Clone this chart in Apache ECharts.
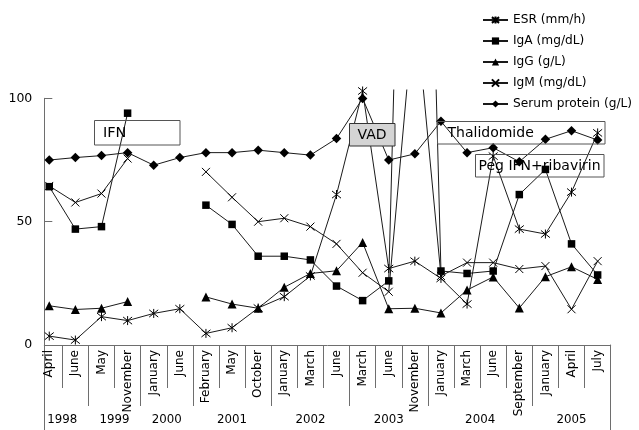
<!DOCTYPE html>
<html>
<head>
<meta charset="utf-8">
<script src="https://cdn.jsdelivr.net/npm/echarts@6/dist/echarts.min.js"></script>
<style>
html,body{margin:0;padding:0;background:#fff;}
#chart{width:639px;height:430px;}
</style>
</head>
<body>
<div id="chart"></div>
<script>
// ---- data ----
const months = ['April','June','May','November','January','June','February','May','October','January','March','June','March','June','November','January','March','June','September','January','April','July'];
const years = ['1998','1999','2000','2001','2002','2003','2004','2005'];
const monthsPerYear = [2,2,2,3,3,3,4,3];
const esr    = [3.6, 2, 11.5, 9.9, 12.8, 14.7, 4.7, 7, 15, 19.6, 28, 61, 103, 31, 34, 27, 16.6, 76.6, 47, 45, 62, 86];
const igA    = [64.2, 47, 48, 94, null, null, 56.7, 48.9, 36, 36, 34.5, 23.9, 18, 26, 430, 30, 29, 30, 61, 71.2, 41, 28.4];
const igG    = [15.9, 14.4, 14.9, 17.6, null, null, 19.5, 16.6, 14.9, 23.4, 29, 30.1, 41.6, 14.7, 14.9, 13, 22.3, 27.6, 15, 27.7, 31.7, 26.6];
const igM    = [64.5, 57.8, 61.4, 75.6, null, null, 70.2, 59.9, 50, 51.4, 48, 41, 29.3, 21.6, 140, 28, 33.4, 33.4, 30.8, 32, 14.5, 34];
const serum  = [75, 76, 76.8, 78, 72.9, 76, 78, 78, 79, 78, 77, 83.7, 100, 75, 77.5, 90.7, 78, 80, 74.3, 83.4, 86.9, 83.1];
const seriesNames = ['ESR (mm/h)', 'IgA (mg/dL)', 'IgG (g/L)', 'IgM (mg/dL)', 'Serum protein (g/L)'];
const yMin = 0, yMax = 100, yStep = 50;
const annotations = ['IFN', 'VAD', 'Thalidomide', 'Peg IFN+ribavirin'];

// ---- derived helpers ----
const cats = months.map((m, i) => i + ':' + m);
const yearStart = [];
const yearCenter = {};
let acc = 0;
monthsPerYear.forEach((n, k) => {
  yearStart.push(acc);
  yearCenter[(acc + (n - 1) / 2).toFixed(1)] = years[k];
  acc += n;
});

const LINE = '#1a1a1a';
const AX = '#6e6e6e';
const FONT = 'DejaVu Sans';

const STAR = 'path://M1,1L9,9M1,9L9,1M5,0L5,10';
const CROSS = 'path://M0,0L10,10M0,10L10,0';

function mkSeries(name, data, symbol, size, stroked) {
  return {
    name: name, type: 'line', data: data,
    xAxisIndex: 0, yAxisIndex: 0,
    symbol: symbol, symbolSize: size,
    showSymbol: true, connectNulls: false, clip: true,
    lineStyle: { color: LINE, width: 1 },
    itemStyle: stroked ? { color: '#000', borderColor: '#000', borderWidth: 1 } : { color: '#000', borderWidth: 0 },
    emphasis: { disabled: true },
    animation: false
  };
}

const GL = 36.2, GR = 639 - 610.7;

const chart = echarts.init(document.getElementById('chart'), null, { renderer: 'canvas' });
chart.setOption({
  animation: false,
  backgroundColor: '#fff',
  grid: [
    { left: GL, right: GR, top: 90, bottom: 85, containLabel: false },
    { left: 44.3, right: GR, top: 98.3, bottom: 85, containLabel: false },
    { left: 44.3, right: GR, top: 345, bottom: 0, containLabel: false }
  ],
  legend: {
    orient: 'vertical', left: 477, top: 8,
    itemWidth: 25, itemHeight: 9, itemGap: 7,
    data: seriesNames,
    textStyle: { fontFamily: FONT, fontSize: 12.2, color: '#000', lineHeight: 14 },
    selectedMode: false
  },
  xAxis: [
    { // months + short separators
      type: 'category', gridIndex: 0, position: 'bottom', data: cats, boundaryGap: true,
      axisLine: { show: false },
      axisTick: { show: true, length: 43, interval: (i) => i > 0, lineStyle: { color: AX, width: 1 } },
      axisLabel: { interval: 0, rotate: 90, margin: 5, fontFamily: FONT, fontSize: 12, color: '#000',
        formatter: (v) => v.split(':')[1] },
      splitLine: { show: false }
    },
    { // long separators at year boundaries
      type: 'category', gridIndex: 0, position: 'bottom', data: cats, boundaryGap: true,
      axisLine: { show: false },
      axisTick: { show: true, length: 61, interval: (i) => yearStart.indexOf(i) > 0, lineStyle: { color: AX, width: 1 } },
      axisLabel: { show: false },
      splitLine: { show: false }
    },
    { // year labels
      type: 'value', gridIndex: 0, position: 'bottom', min: -0.5, max: months.length - 0.5, interval: 0.5,
      offset: 61,
      axisLine: { show: false }, axisTick: { show: false }, splitLine: { show: false },
      axisLabel: { show: true, margin: 8, fontFamily: FONT, fontSize: 11.8, color: '#000',
        showMinLabel: true, showMaxLabel: true,
        formatter: (v) => yearCenter[Number(v).toFixed(1)] || '' }
    },
    { // visible x axis line
      type: 'value', gridIndex: 1, min: 0, max: 1,
      axisLine: { show: true, onZero: false, lineStyle: { color: AX, width: 1 } },
      axisTick: { show: false }, axisLabel: { show: false }, splitLine: { show: false }
    },
    {
      type: 'value', gridIndex: 2, min: 0, max: 1, show: false
    }
  ],
  yAxis: [
    { type: 'value', gridIndex: 0, min: yMin, max: 103.4, show: false },
    { // visible y axis
      type: 'value', gridIndex: 1, min: yMin, max: yMax, interval: yStep,
      axisLine: { show: true, onZero: false, lineStyle: { color: AX, width: 1 } },
      axisTick: { show: true, inside: true, length: 8, lineStyle: { color: AX, width: 1 } },
      axisLabel: { margin: 12, fontFamily: FONT, fontSize: 12.5, color: '#000' },
      splitLine: { show: false }
    },
    { // left border extension through label area
      type: 'value', gridIndex: 2, position: 'left', min: 0, max: 1,
      axisLine: { show: true, onZero: false, lineStyle: { color: AX, width: 1 } },
      axisTick: { show: false }, axisLabel: { show: false }, splitLine: { show: false }
    },
    { // right border extension
      type: 'value', gridIndex: 2, position: 'right', min: 0, max: 1,
      axisLine: { show: true, onZero: false, lineStyle: { color: AX, width: 1 } },
      axisTick: { show: false }, axisLabel: { show: false }, splitLine: { show: false }
    }
  ],
  series: [
    mkSeries(seriesNames[0], esr, STAR, 9, true),
    mkSeries(seriesNames[1], igA, 'rect', 7.5, false),
    mkSeries(seriesNames[2], igG, 'triangle', 9, false),
    mkSeries(seriesNames[3], igM, CROSS, 8, true),
    mkSeries(seriesNames[4], serum, 'diamond', 9.5, false)
  ],
  graphic: [
    { type: 'rect', shape: { x: 94.5, y: 120.5, width: 85.5, height: 24.5 }, style: { fill: 'none', stroke: '#555', lineWidth: 1 }, z: 100 },
    { type: 'text', x: 103, y: 133, style: { text: annotations[0], font: '14.5px "DejaVu Sans"', fill: '#000', verticalAlign: 'middle' }, z: 101 },
    { type: 'rect', shape: { x: 349.5, y: 123.5, width: 45.5, height: 22.5 }, style: { fill: '#d4d4d4', stroke: '#333', lineWidth: 1 }, z: 100 },
    { type: 'text', x: 372, y: 135, style: { text: annotations[1], font: '14px "DejaVu Sans"', fill: '#000', align: 'center', verticalAlign: 'middle' }, z: 101 },
    { type: 'rect', shape: { x: 437.5, y: 121.5, width: 167.5, height: 22.5 }, style: { fill: 'none', stroke: '#555', lineWidth: 1 }, z: 100 },
    { type: 'text', x: 447.5, y: 133, style: { text: annotations[2], font: '14px "DejaVu Sans"', fill: '#000', verticalAlign: 'middle' }, z: 101 },
    { type: 'rect', shape: { x: 475.5, y: 154.5, width: 128.5, height: 22.5 }, style: { fill: 'none', stroke: '#555', lineWidth: 1 }, z: 100 },
    { type: 'text', x: 478.5, y: 166, style: { text: annotations[3], font: '14px "DejaVu Sans"', fill: '#000', verticalAlign: 'middle' }, z: 101 }
  ]
});
</script>
</body>
</html>
